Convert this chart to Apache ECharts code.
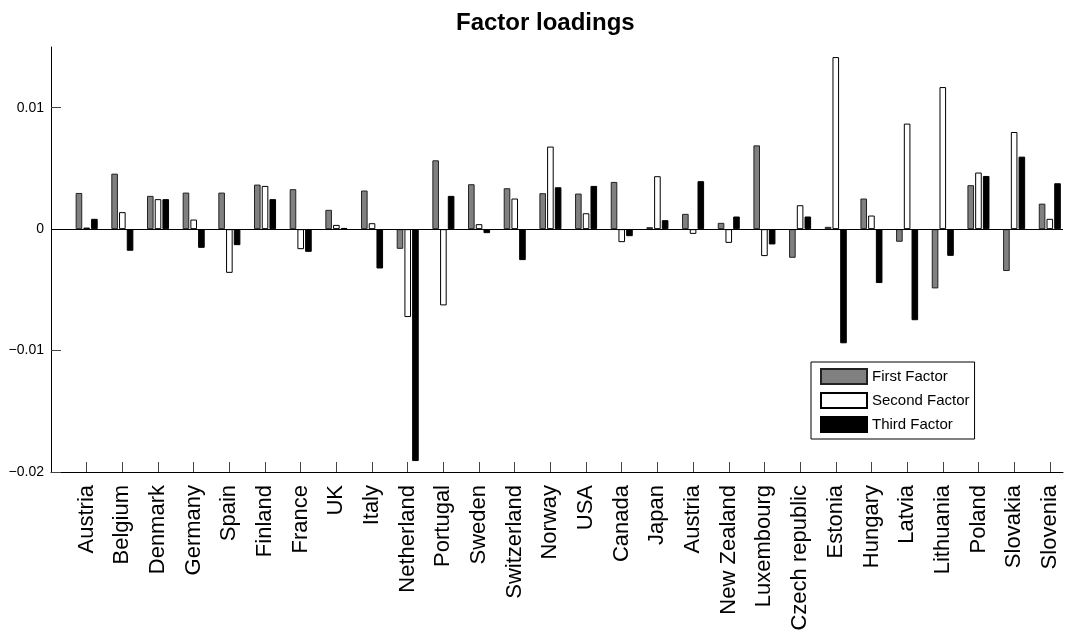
<!DOCTYPE html>
<html>
<head>
<meta charset="utf-8">
<script src="https://cdn.jsdelivr.net/npm/echarts@6/dist/echarts.min.js"></script>
<style>
  html, body { margin: 0; padding: 0; background: #fff; }
  #chart { width: 1071px; height: 635px; }
</style>
</head>
<body>
<div id="chart"></div>
<script>
const countries = ["Austria", "Belgium", "Denmark", "Germany", "Spain", "Finland", "France", "UK", "Italy",
  "Netherland", "Portugal", "Sweden", "Switzerland", "Norway", "USA", "Canada", "Japan", "Austria",
  "New Zealand", "Luxembourg", "Czech republic", "Estonia", "Hungary", "Latvia", "Lithuania", "Poland",
  "Slovakia", "Slovenia"];

const firstFactor = [0.00298, 0.00457, 0.00274, 0.00301, 0.00301, 0.00367, 0.00329, 0.00159, 0.00318,
  -0.00162, 0.00567, 0.0037, 0.00337, 0.00296, 0.00293, 0.00389, 0.00016, 0.00126, 0.00052, 0.0069,
  -0.00236, 0.00019, 0.00252, -0.00104, -0.00488, 0.00362, -0.00345, 0.0021];
const secondFactor = [0.00013, 0.0014, 0.00247, 0.00079, -0.0036, 0.00356, -0.00165, 0.00035, 0.00049,
  -0.00724, -0.00628, 0.00041, 0.00252, 0.0068, 0.00131, -0.00107, 0.00436, -0.00039, -0.00113, -0.00222,
  0.00197, 0.01417, 0.00112, 0.00869, 0.0117, 0.00466, 0.008, 0.00085];
const thirdFactor = [0.00085, -0.00178, 0.00247, -0.00154, -0.00132, 0.00247, -0.00187, 0.0001, -0.00324,
  -0.0191, 0.00274, -0.00033, -0.00255, 0.00345, 0.00356, -0.00058, 0.00074, 0.00395, 0.00104, -0.00126,
  0.00104, -0.0094, -0.00444, -0.0075, -0.0022, 0.00438, 0.00597, 0.00378];

const yTicks = [-0.02, -0.01, 0, 0.01];
const xTicks = countries.map((c, i) => i + 1);

const font = "'Liberation Sans', Arial, Helvetica, sans-serif";

function pairs(vals) {
  return vals.map((v, i) => [i + 1, v]);
}

function fmtY(v) {
  if (Math.abs(v) < 1e-12) return "0";
  const s = Math.abs(v).toString();
  return (v < 0 ? "\u2212" : "") + s;
}

const chart = echarts.init(document.getElementById("chart"));

chart.setOption({
  animation: false,
  backgroundColor: "#fff",
  title: {
    text: "Factor loadings",
    left: 456,
    top: 11,
    padding: 0,
    textStyle: { fontFamily: font, fontSize: 24, fontWeight: "bold", color: "#000" }
  },
  legend: {
    orient: "vertical",
    left: 811,
    top: 362,
    padding: [6, 5, 6, 9],
    icon: "rect",
    itemWidth: 46,
    itemHeight: 15,
    itemGap: 7,
    borderColor: "#000",
    borderWidth: 1,
    backgroundColor: "#fff",
    textStyle: { fontFamily: font, fontSize: 15, color: "#000" },
    data: ["First Factor", "Second Factor", "Third Factor"]
  },
  grid: { left: 51, right: 8, top: 47, bottom: 163 },
  xAxis: {
    type: "value",
    min: 0,
    max: 28.37,
    interval: 1,
    splitLine: { show: false },
    axisLine: { show: true, onZero: false, lineStyle: { color: "#000", width: 1 } },
    axisTick: { show: true, inside: true, length: 10, customValues: xTicks, lineStyle: { color: "#444" } },
    axisLabel: {
      customValues: xTicks,
      rotate: 90,
      margin: 13,
      fontFamily: font,
      fontSize: 22,
      color: "#000",
      formatter: (v) => countries[Math.round(v) - 1] || ""
    }
  },
  yAxis: {
    type: "value",
    min: -0.02,
    max: 0.015,
    interval: 0.01,
    splitLine: { show: false },
    axisLine: { show: true, lineStyle: { color: "#000", width: 1 } },
    axisTick: { show: true, inside: true, length: 10, customValues: yTicks, lineStyle: { color: "#444" } },
    axisLabel: {
      customValues: yTicks,
      margin: 7,
      fontFamily: font,
      fontSize: 14,
      color: "#000",
      formatter: fmtY
    }
  },
  series: [
    {
      name: "First Factor",
      type: "bar",
      barWidth: 6.6,
      barGap: "17%",
      itemStyle: { color: "#808080", borderColor: "#222", borderWidth: 1 },
      data: pairs(firstFactor),
      markLine: {
        silent: true,
        symbol: "none",
        label: { show: false },
        lineStyle: { color: "#000", width: 1, type: "solid" },
        data: [{ yAxis: 0 }]
      }
    },
    {
      name: "Second Factor",
      type: "bar",
      barWidth: 6.6,
      barGap: "17%",
      itemStyle: { color: "#fff", borderColor: "#000", borderWidth: 1 },
      data: pairs(secondFactor)
    },
    {
      name: "Third Factor",
      type: "bar",
      barWidth: 6.6,
      barGap: "17%",
      itemStyle: { color: "#000", borderColor: "#000", borderWidth: 1 },
      data: pairs(thirdFactor)
    }
  ]
});
</script>
</body>
</html>
